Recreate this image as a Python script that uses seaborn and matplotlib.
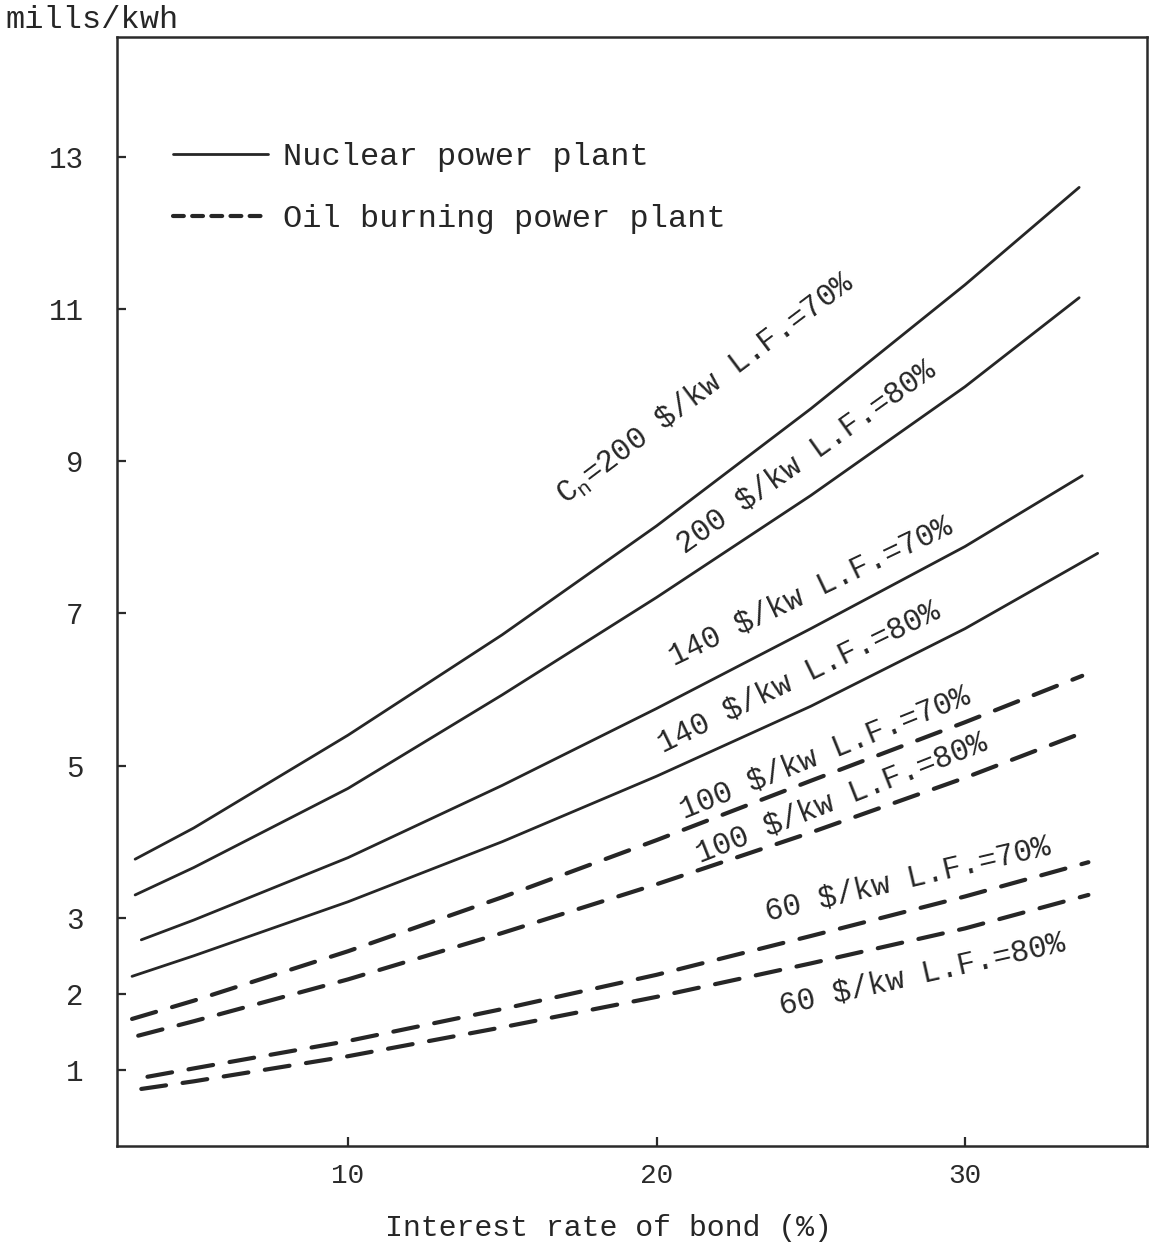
import matplotlib
matplotlib.use("Agg")
import matplotlib.pyplot as plt
import seaborn as sns
import pandas as pd

# ---- data ----
nuc_200_70_x = [3.1, 5, 10, 15, 20, 25, 30, 33.7]
nuc_200_70_y = [3.77, 4.18, 5.40, 6.72, 8.15, 9.69, 11.32, 12.60]
nuc_200_80_x = [3.1, 5, 10, 15, 20, 25, 30, 33.7]
nuc_200_80_y = [3.30, 3.66, 4.70, 5.93, 7.21, 8.55, 9.98, 11.15]
nuc_140_70_x = [3.3, 5, 10, 15, 20, 25, 30, 33.8]
nuc_140_70_y = [2.71, 2.97, 3.79, 4.74, 5.75, 6.80, 7.88, 8.81]
nuc_140_80_x = [3.0, 5, 10, 15, 20, 25, 30, 34.3]
nuc_140_80_y = [2.23, 2.50, 3.21, 4.00, 4.86, 5.78, 6.80, 7.79]
oil_100_70_x = [3.0, 5, 10, 15, 20, 25, 30, 33.8]
oil_100_70_y = [1.67, 1.91, 2.56, 3.27, 4.02, 4.80, 5.57, 6.18]
oil_100_80_x = [3.2, 5, 10, 15, 20, 25, 30, 33.8]
oil_100_80_y = [1.45, 1.64, 2.19, 2.80, 3.44, 4.12, 4.84, 5.43]
oil_60_70_x = [3.5, 5, 10, 15, 20, 25, 30, 34.0]
oil_60_70_y = [0.91, 1.02, 1.38, 1.80, 2.25, 2.76, 3.28, 3.73]
oil_60_80_x = [3.3, 5, 10, 15, 20, 25, 30, 34.0]
oil_60_80_y = [0.75, 0.85, 1.18, 1.56, 1.96, 2.40, 2.86, 3.30]

curve_labels = [
    r"C$_\mathregular{n}$=200 \$/kw L.F.=70%",
    "200 $/kw L.F.=80%",
    "140 $/kw L.F.=70%",
    "140 $/kw L.F.=80%",
    "100 $/kw L.F.=70%",
    "100 $/kw L.F.=80%",
    "60 $/kw L.F.=70%",
    "60 $/kw L.F.=80%",
]
legend_labels = ["Nuclear power plant", "Oil burning power plant"]
x_ticks = [10, 20, 30]
y_ticks = [1, 2, 3, 5, 7, 9, 11, 13]
x_label = "Interest rate of bond (%)"
y_label = "mills/kwh"

curves = [
    ("nuclear", nuc_200_70_x, nuc_200_70_y),
    ("nuclear", nuc_200_80_x, nuc_200_80_y),
    ("nuclear", nuc_140_70_x, nuc_140_70_y),
    ("nuclear", nuc_140_80_x, nuc_140_80_y),
    ("oil", oil_100_70_x, oil_100_70_y),
    ("oil", oil_100_80_x, oil_100_80_y),
    ("oil", oil_60_70_x, oil_60_70_y),
    ("oil", oil_60_80_x, oil_60_80_y),
]

# label placement (x, y in data units, rotation deg)
label_pos = [
    (21.6, 9.95, 37.0),
    (24.85, 9.05, 35.5),
    (25.0, 7.28, 25.5),
    (24.6, 6.16, 26.0),
    (25.45, 5.17, 22.0),
    (26.0, 4.57, 21.5),
    (28.15, 3.51, 13.2),
    (28.6, 2.25, 12.7),
]

sns.set_theme(style="ticks", rc={
    "xtick.direction": "in", "ytick.direction": "in",
    "axes.linewidth": 1.8, "axes.edgecolor": "#2a2a2a",
    "xtick.major.size": 6.5, "ytick.major.size": 6.5,
    "xtick.major.width": 1.6, "ytick.major.width": 1.6,
    "xtick.color": "#2a2a2a", "ytick.color": "#2a2a2a",
})
plt.rcParams["font.family"] = ["Liberation Mono", "DejaVu Sans Mono"]
plt.rcParams["mathtext.fontset"] = "custom"
plt.rcParams["mathtext.rm"] = "Liberation Mono"
plt.rcParams["mathtext.it"] = "Liberation Mono"

W, H = 1151, 1256
fig = plt.figure(figsize=(W / 100, H / 100), dpi=100)
ax = fig.add_axes([117 / W, (H - 1146) / H, (1147 - 117) / W, (1146 - 37) / H])

ink = "#262626"
seen = set()
for kind, xs, ys in curves:
    df = pd.DataFrame({"rate": xs, "cost": ys})
    lab = None
    if kind not in seen:
        lab = legend_labels[0] if kind == "nuclear" else legend_labels[1]
        seen.add(kind)
    if kind == "nuclear":
        sns.lineplot(data=df, x="rate", y="cost", ax=ax, color=ink, lw=2.0,
                     estimator=None, sort=False, label=lab)
    else:
        line = sns.lineplot(data=df, x="rate", y="cost", ax=ax, color=ink, lw=3.0,
                            estimator=None, sort=False, label=lab).lines[-1]
        line.set_dashes((6, 4))
        line.set_dash_capstyle("round")

for (tx, ty, rot), txt in zip(label_pos, curve_labels):
    ax.text(tx, ty, txt, rotation=rot, rotation_mode="anchor", ha="center",
            va="center", fontsize=22, color=ink)

ax.set_xlim((117 - 39.5) / 30.85, (1147 - 39.5) / 30.85)
ax.set_ylim(0, (1146 - 37) / 76.08)
ax.set_xticks(x_ticks)
ax.set_yticks(y_ticks)
ax.tick_params(axis="x", labelsize=20, pad=12)
ax.tick_params(axis="y", labelsize=21, pad=24)
ax.set_xlabel("")
ax.set_ylabel("")
for s in ax.spines.values():
    s.set_visible(True)

leg = ax.legend(loc="upper left", bbox_to_anchor=(0.054, 0.905), frameon=False,
                fontsize=23, handlelength=3.0, handletextpad=0.45,
                labelspacing=1.0, borderpad=0, borderaxespad=0)
for h in leg.get_lines():
    h.set_color(ink)
leg.get_lines()[1].set_dashes((2.6, 2.0))
leg.get_lines()[1].set_dash_capstyle("round")
for t in leg.get_texts():
    t.set_color(ink)

fig.text(5 / W, 1 - 20 / H, y_label, ha="left", va="center", fontsize=23, color=ink)
fig.text(608 / W, 1 - 1228 / H, x_label, ha="center", va="center", fontsize=21.5, color=ink)

fig.savefig("out.png", dpi=100, facecolor="white")
